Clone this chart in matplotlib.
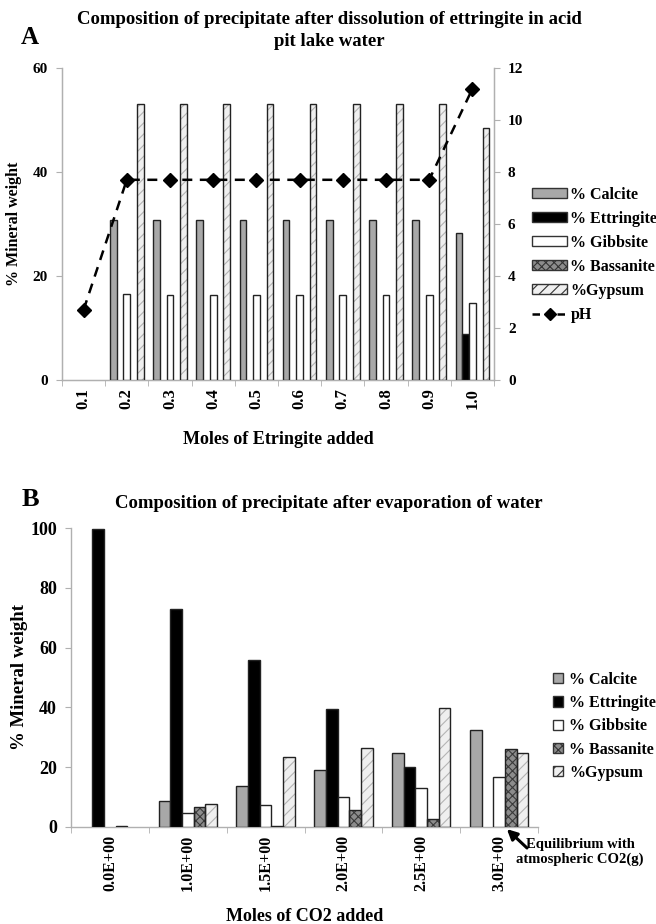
import matplotlib
matplotlib.use("Agg")
import matplotlib.pyplot as plt
import numpy as np
from matplotlib.lines import Line2D

plt.rcParams['font.family'] = ['Liberation Serif', 'DejaVu Serif']
plt.rcParams['font.weight'] = 'bold'
plt.rcParams['axes.labelweight'] = 'bold'
plt.rcParams['hatch.linewidth'] = 0.8

# ---------------- Data: panel A ----------------
a_categories = ["0.1", "0.2", "0.3", "0.4", "0.5", "0.6", "0.7", "0.8", "0.9", "1.0"]
a_calcite    = [0, 30.8, 30.8, 30.8, 30.8, 30.8, 30.8, 30.8, 30.8, 28.3]
a_ettringite = [0, 0, 0, 0, 0, 0, 0, 0, 0, 8.8]
a_gibbsite   = [0, 16.6, 16.3, 16.3, 16.3, 16.3, 16.3, 16.3, 16.3, 14.8]
a_bassanite  = [0, 0, 0, 0, 0, 0, 0, 0, 0, 0]
a_gypsum     = [0, 53.1, 53.1, 53.1, 53.1, 53.1, 53.1, 53.1, 53.1, 48.5]
a_ph         = [2.7, 7.7, 7.7, 7.7, 7.7, 7.7, 7.7, 7.7, 7.7, 11.2]

# ---------------- Data: panel B ----------------
b_categories = ["0.0E+00", "1.0E+00", "1.5E+00", "2.0E+00", "2.5E+00", "3.0E+00"]
b_calcite    = [0, 8.7, 13.6, 19.0, 24.6, 32.4]
b_ettringite = [99.7, 72.9, 56.0, 39.3, 20.1, 0]
b_gibbsite   = [0, 4.7, 7.3, 10.0, 12.9, 16.8]
b_bassanite  = [0.3, 6.7, 0.3, 5.6, 2.6, 26.0]
b_gypsum     = [0, 7.7, 23.3, 26.5, 39.9, 24.8]

series_names_a = ["% Calcite", "% Ettringite", "% Gibbsite", "% Bassanite", "%Gypsum"]
series_names_b = ["% Calcite", "% Ettringite", "% Gibbsite", "% Bassanite", "%Gypsum"]

styles = [
    dict(face="#a8a8a8", hatch=None, hcol=None),
    dict(face="#000000", hatch=None, hcol=None),
    dict(face="#ffffff", hatch=None, hcol=None),
    dict(face="#8c8c8c", hatch="xxxx", hcol="#3a3a3a"),
    dict(face="#efefef", hatch="///", hcol="#b4b4b4"),
]

SPINE = "#b0b0b0"
fig = plt.figure(figsize=(6.56, 9.24), dpi=100)


def draw_bars(ax, x, series, width, names):
    handles = []
    n = len(series)
    for i, (vals, st, nm) in enumerate(zip(series, styles, names)):
        pos = x + (i - (n - 1) / 2) * width
        lws = [1.0 if v > 0 else 0.0 for v in vals]
        if st["hatch"]:
            ax.bar(pos, vals, width, color=st["face"], hatch=st["hatch"],
                   edgecolor=st["hcol"], linewidth=0, zorder=2)
            ax.bar(pos, vals, width, fill=False, edgecolor="#222222",
                   linewidth=lws, zorder=3)
            h = plt.Rectangle((0, 0), 1, 1, facecolor=st["face"], hatch=st["hatch"],
                              edgecolor="#333333", linewidth=1.0)
        else:
            ax.bar(pos, vals, width, color=st["face"], edgecolor="#222222",
                   linewidth=lws, zorder=3)
            h = plt.Rectangle((0, 0), 1, 1, facecolor=st["face"],
                              edgecolor="#333333", linewidth=1.0)
        handles.append((h, nm))
    return handles


def style_axis(ax, ncat, ylabsize):
    ax.set_xlim(-0.5, ncat - 0.5)
    ax.set_xticks(np.arange(ncat))
    ax.tick_params(axis='x', which='major', length=0, pad=6)
    ax.set_xticks(np.arange(ncat + 1) - 0.5, minor=True)
    ax.tick_params(axis='x', which='minor', length=4, color=SPINE, direction='out')
    ax.tick_params(axis='y', length=4, color=SPINE, direction='out', labelsize=ylabsize, pad=6)
    ax.spines["top"].set_visible(False)
    for s in ["left", "bottom", "right"]:
        ax.spines[s].set_color(SPINE)
        ax.spines[s].set_linewidth(1.0)


# ================= Panel A =================
axA = fig.add_axes([62 / 656, 1 - 380 / 924, 432 / 656, 312 / 924])
xa = np.arange(len(a_categories))
handlesA = draw_bars(axA, xa, [a_calcite, a_ettringite, a_gibbsite, a_bassanite, a_gypsum],
                     0.156, series_names_a)
style_axis(axA, len(a_categories), 11)
axA.set_ylim(0, 60)
axA.set_yticks([0, 20, 40, 60])
axA.set_xticklabels(a_categories, rotation=90, fontsize=12)
axA.set_ylabel("% Mineral weight", fontsize=11.5, fontweight='bold', labelpad=8)
axA.set_xlabel("Moles of Etringite added", fontsize=13, fontweight='bold', labelpad=16)

axA2 = axA.twinx()
axA2.plot(xa, a_ph, linestyle=(0, (4, 3)), color="black", linewidth=1.8,
          marker="D", markersize=7, zorder=5)
axA2.set_ylim(0, 12)
axA2.set_yticks(np.arange(0, 13, 2))
axA2.tick_params(axis='y', length=4, color=SPINE, direction='out', labelsize=11, pad=6)
axA2.spines["top"].set_visible(False)
for s in ["left", "bottom", "right"]:
    axA2.spines[s].set_color(SPINE)
axA.set_zorder(1)
axA2.set_zorder(2)
axA2.patch.set_visible(False)

legA_handles = [h for h, _ in handlesA] + [Line2D([0], [0], color="black", linestyle=(0, (3, 2)),
                                                  marker="D", markersize=6, linewidth=1.8)]
legA_labels = [n for _, n in handlesA] + ["pH"]
fig.legend(legA_handles, legA_labels, loc="upper left",
           bbox_to_anchor=(532 / 656, 1 - 187 / 924), frameon=False, fontsize=11.5,
           handlelength=2.2, handleheight=0.6, handletextpad=0.2, labelspacing=0.5,
           borderaxespad=0, borderpad=0)

fig.text(329 / 656, 1 - 20 / 924,
         "Composition of precipitate after dissolution of ettringite in acid",
         ha="center", va="center", fontsize=13.5)
fig.text(329 / 656, 1 - 42 / 924, "pit lake water", ha="center", va="center", fontsize=13.5)
fig.text(21 / 656, 1 - 38 / 924, "A", ha="left", va="center", fontsize=18)

# ================= Panel B =================
axB = fig.add_axes([71 / 656, 1 - 826.7 / 924, 467 / 656, 298.4 / 924])
xb = np.arange(len(b_categories))
handlesB = draw_bars(axB, xb, [b_calcite, b_ettringite, b_gibbsite, b_bassanite, b_gypsum],
                     0.15, series_names_b)
style_axis(axB, len(b_categories), 13)
axB.spines["right"].set_visible(False)
axB.set_ylim(0, 100)
axB.set_yticks(np.arange(0, 101, 20))
axB.set_xticklabels(b_categories, rotation=90, fontsize=11.5)
axB.set_ylabel("% Mineral weight", fontsize=13.5, fontweight='bold', labelpad=2)
axB.set_xlabel("Moles of CO2 added", fontsize=13, fontweight='bold', labelpad=12)

fig.legend([h for h, _ in handlesB], [n for _, n in handlesB], loc="upper left",
           bbox_to_anchor=(553 / 656, 1 - 672 / 924), frameon=False, fontsize=11.5,
           handlelength=0.6, handleheight=0.6, handletextpad=0.4, labelspacing=0.45,
           borderaxespad=0, borderpad=0)

# arrow pointing at the equilibrium bars
axB.annotate("", xy=(5.10, -0.8), xycoords="data",
             xytext=(527 / 656, 1 - 848 / 924), textcoords="figure fraction",
             annotation_clip=False,
             arrowprops=dict(arrowstyle="-|>", color="black", lw=2.2, mutation_scale=15,
                             shrinkA=0, shrinkB=0))
fig.text(580 / 656, 1 - 852 / 924, "Equilibrium with\natmospheric CO2(g)",
         ha="center", va="center", fontsize=10.5, linespacing=1.15)

fig.text(329 / 656, 1 - 503 / 924, "Composition of precipitate after evaporation of water",
         ha="center", va="center", fontsize=13.5)
fig.text(22 / 656, 1 - 500 / 924, "B", ha="left", va="center", fontsize=19)

fig.savefig("out.png", dpi=100)
